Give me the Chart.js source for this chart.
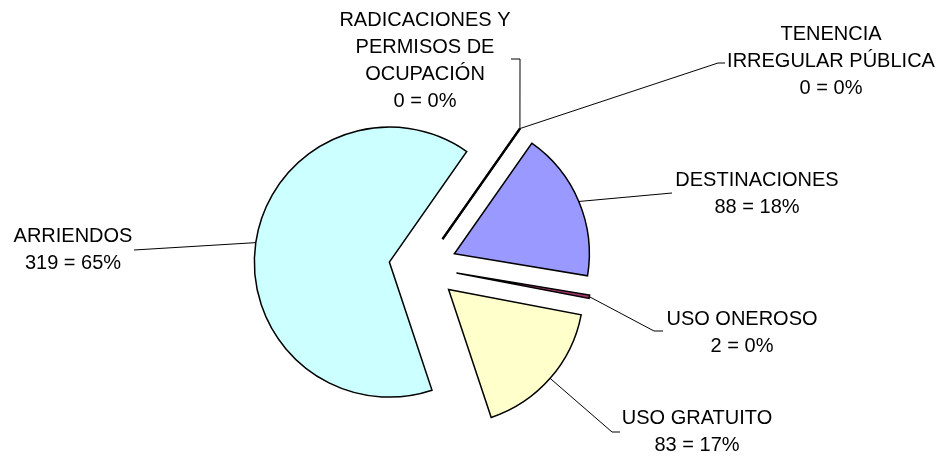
<!DOCTYPE html>
<html>
<head>
<meta charset="utf-8">
<script src="https://cdn.jsdelivr.net/npm/chart.js@4/dist/chart.umd.min.js"></script>
<style>
  body { margin: 0; background: #fff; }
</style>
</head>
<body>
<canvas id="chart" width="943" height="459"></canvas>
<script>
// Slices in the order they are drawn clockwise (Excel starts the first one at 35 deg)
const categories = ['DESTINACIONES', 'USO ONEROSO', 'USO GRATUITO', 'ARRIENDOS', 'RADICACIONES Y\nPERMISOS DE\nOCUPACIÓN', 'TENENCIA\nIRREGULAR PÚBLICA'];
const values = [88, 2, 83, 319, 0, 0];
const colors = ['#9999FF', '#993366', '#FFFFCC', '#CCFFFF', '#FFFFFF', '#FFFFFF'];

// layout of the moved labels: centre of the first text line, and the bends of the leader line
const labelPos = [[757, 179], [742, 318], [697, 417], [73, 235], [425, 19], [831, 33]];
const leaderBends = [
  [[672, 193]],
  [[654, 331], [663, 331]],
  [[612, 432], [620, 432]],
  [[134, 250]],
  [[520, 59], [511, 59]],
  [[718, 63], [725, 63]]
];
const EXPLODE = 34;
const LINE_H = 27;
const FONT = '20px "Liberation Sans", Arial, sans-serif';

const total = values.reduce((a, b) => a + b, 0);

// draws each slice pushed out along its middle angle, plus labels with leader lines
const explodedPie = {
  id: 'explodedPie',
  beforeDatasetDraw(chart, args) {
    const ctx = chart.ctx;
    args.meta.data.forEach((arc) => {
      const p = arc.getProps(['x', 'y', 'startAngle', 'endAngle', 'outerRadius']);
      const mid = (p.startAngle + p.endAngle) / 2;
      ctx.save();
      ctx.translate(Math.cos(mid) * EXPLODE, Math.sin(mid) * EXPLODE);
      if (p.endAngle > p.startAngle) {
        arc.draw(ctx);
      } else {
        // empty slice, Excel still draws its edge
        ctx.beginPath();
        ctx.moveTo(p.x, p.y);
        ctx.lineTo(p.x + Math.cos(mid) * p.outerRadius, p.y + Math.sin(mid) * p.outerRadius);
        ctx.lineWidth = 2.2;
        ctx.strokeStyle = '#000';
        ctx.stroke();
      }
      ctx.restore();
    });
    return false;
  },
  afterDraw(chart) {
    const ctx = chart.ctx;
    const meta = chart.getDatasetMeta(0);
    meta.data.forEach((arc, i) => {
      const p = arc.getProps(['x', 'y', 'startAngle', 'endAngle', 'outerRadius']);
      const mid = (p.startAngle + p.endAngle) / 2;
      const r = p.outerRadius + EXPLODE;
      // leader line
      ctx.save();
      ctx.beginPath();
      ctx.moveTo(p.x + Math.cos(mid) * r, p.y + Math.sin(mid) * r);
      leaderBends[i].forEach(pt => ctx.lineTo(pt[0], pt[1]));
      ctx.lineWidth = 1;
      ctx.strokeStyle = '#000';
      ctx.stroke();

      // label text
      const pct = Math.round(values[i] / total * 100);
      const lines = categories[i].split('\n').concat([values[i] + ' = ' + pct + '%']);
      ctx.font = FONT;
      ctx.fillStyle = '#000';
      ctx.textAlign = 'center';
      ctx.textBaseline = 'alphabetic';
      lines.forEach((t, k) => {
        ctx.fillText(t, labelPos[i][0], labelPos[i][1] + 7 + k * LINE_H);
      });
      ctx.restore();
    });
  }
};

new Chart(document.getElementById('chart').getContext('2d'), {
  type: 'pie',
  data: {
    labels: categories,
    datasets: [{
      data: values,
      backgroundColor: colors,
      borderColor: '#000',
      borderWidth: 1.5,
      borderJoinStyle: 'miter'
    }]
  },
  options: {
    responsive: false,
    animation: false,
    rotation: 35,
    radius: 135,
    layout: {
      padding: { left: 0, right: 97, top: 75, bottom: 0 }
    },
    plugins: {
      legend: { display: false },
      tooltip: { enabled: false }
    }
  },
  plugins: [explodedPie]
});
</script>
</body>
</html>
